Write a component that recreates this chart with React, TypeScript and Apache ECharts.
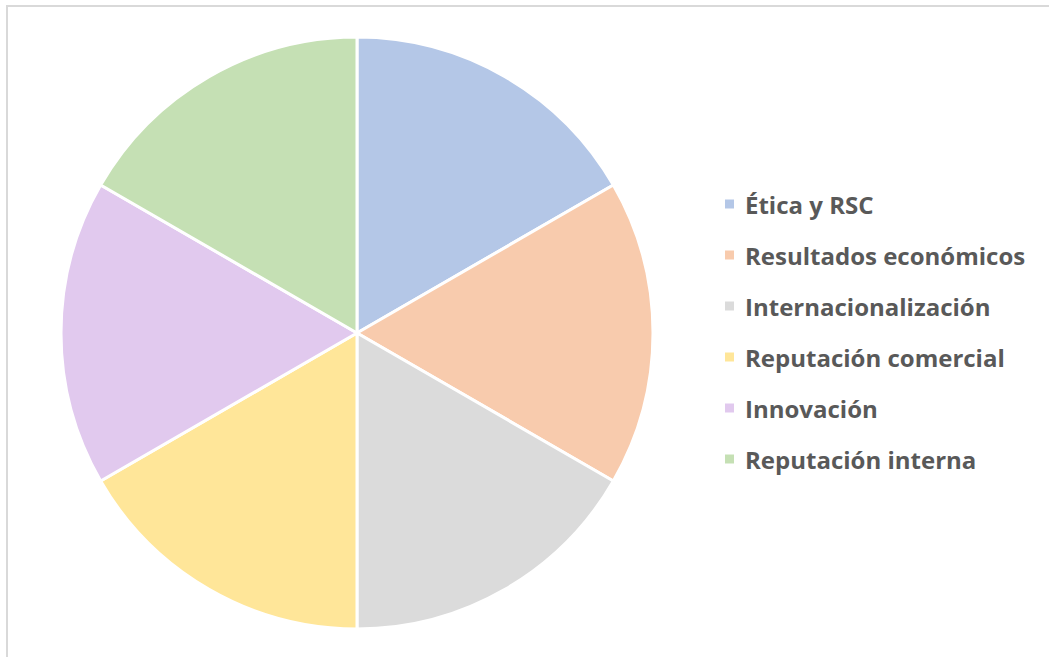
import React, { useEffect, useRef } from "react";
import * as echarts from "echarts";

const categories = [
  "Ética y RSC",
  "Resultados económicos",
  "Internacionalización",
  "Reputación comercial",
  "Innovación",
  "Reputación interna",
];
const values = [1, 1, 1, 1, 1, 1];
const colors = ["#B4C7E7", "#F8CBAD", "#DBDBDB", "#FFE699", "#E1C9EE", "#C5E0B4"];

export default function App() {
  const ref = useRef<HTMLDivElement>(null);
  useEffect(() => {
    const chart = echarts.init(ref.current!, undefined, { renderer: "svg" });
    chart.setOption({
      animation: false,
      backgroundColor: "#FFFFFF",
      color: colors,
      graphic: [
        {
          type: "rect",
          shape: { x: 7, y: 6, width: 1060, height: 670 },
          style: { fill: "none", stroke: "#D9D9D9", lineWidth: 2 },
          silent: true,
        },
      ],
      legend: {
        orient: "vertical",
        left: 723,
        top: 192,
        padding: 0,
        icon: "rect",
        itemWidth: 11,
        itemHeight: 11,
        itemGap: 27,
        textStyle: {
          fontFamily: "Open Sans",
          fontWeight: "bold",
          fontSize: 24,
          lineHeight: 24,
          color: "#595959",
          padding: [0, 0, 0, 5],
        },
        data: categories,
      },
      series: [
        {
          type: "pie",
          center: [357, 333],
          radius: 296,
          startAngle: 90,
          clockwise: true,
          label: { show: false },
          labelLine: { show: false },
          itemStyle: { borderColor: "#FFFFFF", borderWidth: 3 },
          emphasis: { disabled: true },
          data: categories.map((name, i) => ({ name, value: values[i] })),
        },
      ],
    });
    return () => chart.dispose();
  }, []);
  return (
    <div
      ref={ref}
      style={{ position: "fixed", left: 0, top: 0, width: 1049, height: 657 }}
    />
  );
}
